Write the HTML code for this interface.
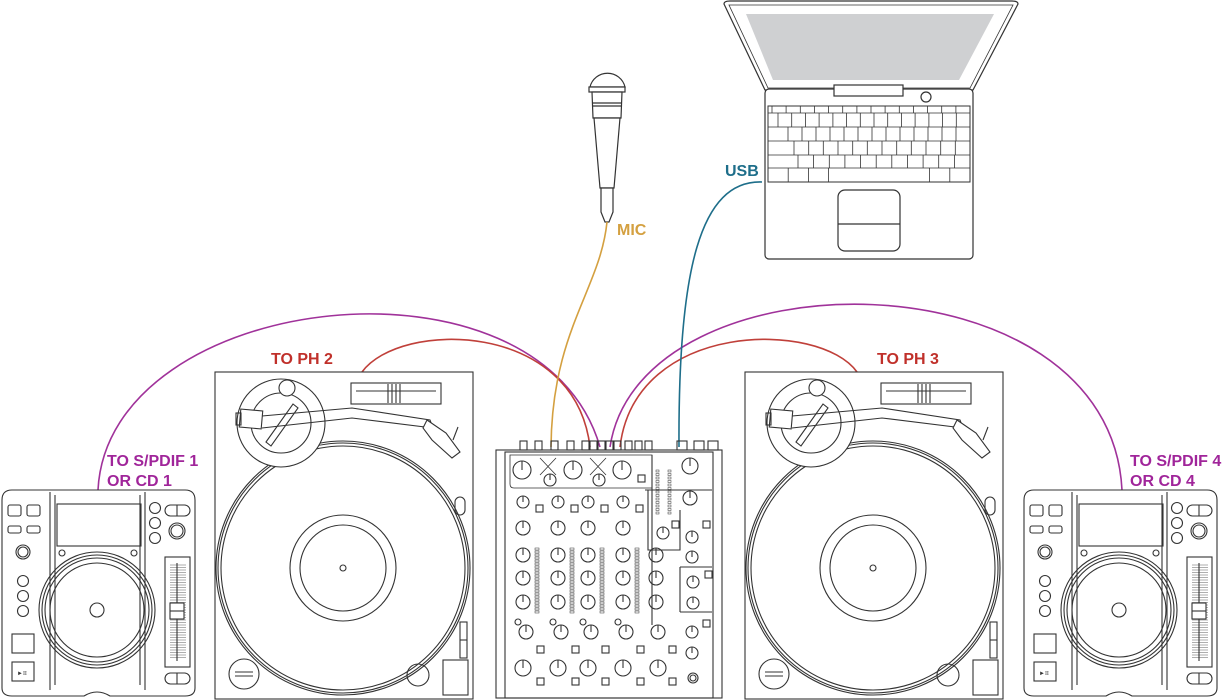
<!DOCTYPE html>
<html><head><meta charset="utf-8"><style>
html,body{margin:0;padding:0;background:#fff}
svg{display:block}
.l{font-family:"Liberation Sans",sans-serif;font-size:16px;font-weight:bold}
</style></head><body>
<svg id="s" width="1224" height="700" viewBox="0 0 1224 700" xmlns="http://www.w3.org/2000/svg">
<g fill="none" stroke="#333" stroke-width="1.2">
<!-- laptop -->
<path d="M724,4 Q724,1 730,1 L1012,1 Q1018,1 1018,4 L973,90 L765,90 Z" fill="#fff"/>
<path d="M729,5 L1013,5 L970,88 L768,88 Z" stroke-width="0.8"/>
<path d="M746,14 L994,14 L959,80 L773,80 Z" fill="#cfd0d2" stroke="none"/>
<rect x="765" y="89" width="208" height="170" rx="4" fill="#fff"/>
<rect x="834" y="85" width="69" height="11" fill="#fff"/>
<circle cx="926" cy="97" r="5"/>
<rect x="768" y="106" width="202" height="76" stroke-width="1"/>
<g id="keys" stroke-width="0.8"></g>
<rect x="838" y="190" width="62" height="61" rx="7"/>
<line x1="838" y1="224" x2="900" y2="224"/>
<!-- mic -->
<path d="M590,87 A18,18 0 0 1 625,87 Z" fill="#fff"/>
<rect x="589" y="87" width="36" height="5" fill="#fff"/>
<path d="M592,92 L622,92 L621,118 L593,118 Z" fill="#fff"/>
<line x1="592" y1="103" x2="622" y2="103"/>
<line x1="592" y1="106" x2="622" y2="106"/>
<path d="M594,118 L620,118 L614,188 L600,188 Z" fill="#fff"/>
<path d="M601,188 L613,188 L613,212 L609,222 L605,222 L601,212 Z" fill="#fff"/>
</g>
<!-- cables -->
<g fill="none" stroke-width="1.6">
<path d="M98,490 C108,290 540,240 600,447" stroke="#a0329a"/>
<path d="M610,447 C640,250 1110,250 1122,490" stroke="#a0329a"/>
<path d="M362,372 C400,320 575,320 590,447" stroke="#c0403a"/>
<path d="M620,447 C635,320 820,320 857,372" stroke="#c0403a"/>
<path d="M607,222 C600,290 552,330 551,447" stroke="#d4a040"/>
<path d="M762,182 C700,180 678,270 679,447" stroke="#1e6e8a"/>
</g>
<g class="l">
<text x="271" y="364" fill="#c0302a">TO PH 2</text>
<text x="877" y="364" fill="#c0302a">TO PH 3</text>
<text x="107" y="466" fill="#a0259a">TO S/PDIF 1</text>
<text x="107" y="486" fill="#a0259a">OR CD 1</text>
<text x="1130" y="466" fill="#a0259a">TO S/PDIF 4</text>
<text x="1130" y="486" fill="#a0259a">OR CD 4</text>
<text x="617" y="235" fill="#d4a040">MIC</text>
<text x="725" y="176" fill="#1e6e8a">USB</text>
</g>
<g id="dev" fill="none" stroke="#333" stroke-width="1.1"></g>
</svg>
<script>
var k='';
var rows=[[106,113,14],[113,127,14],[127,141,13],[141,155,12],[155,168,11],[168,182,10]];
rows.forEach(function(r,i){k+='<line x1="768" y1="'+r[1]+'" x2="970" y2="'+r[1]+'"/>';var off=[4,10,20,26,30,0][i];var w=(202-off)/r[2];for(var j=0;j<=r[2];j++){var x=768+off+j*w;if(i==5&&j>3&&j<8)continue;k+='<line x1="'+x.toFixed(1)+'" y1="'+r[0]+'" x2="'+x.toFixed(1)+'" y2="'+r[1]+'"/>';}});
document.getElementById('keys').innerHTML=k;
var d='';
function cd(t){
 d+='<g transform="translate('+t+',0)">';
 d+='<path d="M2,500 Q2,490 12,490 L185,490 Q195,490 195,500 L195,688 Q195,696 185,696 L110,696 Q97,688 84,696 L12,696 Q2,696 2,688 Z"/>';
 d+='<path d="M50,492 L50,690 M145,492 L145,690 M55,495 L55,685 M140,495 L140,685"/>';
 d+='<rect x="57" y="504" width="84" height="42"/>';
 d+='<circle cx="62" cy="553" r="3"/><circle cx="134" cy="553" r="3"/>';
 d+='<circle cx="97" cy="610" r="58"/><circle cx="97" cy="610" r="55"/><circle cx="97" cy="610" r="52"/><circle cx="97" cy="610" r="47"/><circle cx="97" cy="610" r="7"/>';
 [[8,505],[27,505]].forEach(function(p){d+='<rect x="'+p[0]+'" y="'+p[1]+'" width="13" height="11" rx="2"/>';});
 [[8,526],[27,526]].forEach(function(p){d+='<rect x="'+p[0]+'" y="'+p[1]+'" width="13" height="7" rx="2"/>';});
 d+='<circle cx="23" cy="552" r="7"/><circle cx="23" cy="552" r="5"/>';
 [581,596,611].forEach(function(y){d+='<circle cx="23" cy="'+y+'" r="5.5"/>';});
 d+='<rect x="12" y="634" width="22" height="19"/><rect x="12" y="662" width="22" height="19"/><text x="17" y="675" font-size="6" fill="#333" stroke="none">&#9658;II</text>';
 [508,523,538].forEach(function(y){d+='<circle cx="155" cy="'+y+'" r="5.5"/>';});
 d+='<rect x="165" y="505" width="25" height="11" rx="5.5"/><line x1="177" y1="505" x2="177" y2="516"/>';
 d+='<circle cx="177" cy="531" r="8"/><circle cx="177" cy="531" r="6"/>';
 d+='<rect x="165" y="557" width="25" height="110"/><line x1="177" y1="563" x2="177" y2="661"/>';
 for(var y=565;y<660;y+=2.5)d+='<line x1="170" y1="'+y+'" x2="186" y2="'+y+'" stroke-width="0.4"/>';
 d+='<rect x="170" y="603" width="14" height="16" fill="#fff"/><line x1="170" y1="611" x2="184" y2="611"/>';
 d+='<rect x="165" y="673" width="25" height="11" rx="5.5"/><line x1="177" y1="673" x2="177" y2="684"/>';
 d+='</g>';
}
function tt(t){
 d+='<g transform="translate('+t+',0)">';
 d+='<rect x="215" y="372" width="258" height="327"/>';
 d+='<circle cx="343" cy="568" r="127"/><circle cx="343" cy="568" r="125"/><circle cx="343" cy="568" r="122"/>';
 d+='<circle cx="343" cy="568" r="53"/><circle cx="343" cy="568" r="43"/><circle cx="343" cy="568" r="3"/>';
 d+='<circle cx="281" cy="423" r="44" fill="#fff"/><circle cx="281" cy="423" r="30"/><circle cx="287" cy="388" r="8" fill="#fff"/>';
 d+='<path d="M266,442 L293,404 L298,408 L271,446 Z"/>';
 d+='<rect x="240" y="410" width="22" height="18" transform="rotate(5 251 419)" fill="#fff"/><rect x="236" y="413" width="5" height="12"/>';
 d+='<path d="M262,416 L352,408 L430,420 L433,428 L352,418 L262,428"/>';
 d+='<path d="M427,420 L446,433 L460,452 L452,458 L432,440 L423,428 Z" fill="#fff"/>';
 d+='<line x1="453" y1="440" x2="458" y2="427"/>';
 d+='<rect x="351" y="383" width="90" height="21"/><line x1="356" y1="391" x2="436" y2="391"/><path d="M388,384 L388,403 M392,384 L392,403 M396,384 L396,403 M400,384 L400,403"/>';
 d+='<rect x="455" y="497" width="10" height="18" rx="5"/>';
 d+='<rect x="460" y="622" width="7" height="36"/><line x1="460" y1="640" x2="467" y2="640"/>';
 d+='<rect x="443" y="660" width="25" height="35"/>';
 d+='<circle cx="244" cy="674" r="15"/><path d="M235,672 L253,672 M235,676 L253,676"/>';
 d+='<circle cx="418" cy="675" r="11"/>';
 d+='</g>';
}
cd(0);cd(1022);tt(0);tt(530);
d+='<rect x="496" y="450" width="226" height="248"/><rect x="505" y="452" width="208" height="246"/>';
[520,535,551,567,582,590,598,606,614,625,635,645].forEach(function(x){d+='<rect x="'+x+'" y="441" width="7" height="9"/>';});
d+='<rect x="677" y="441" width="10" height="9"/><rect x="694" y="441" width="10" height="9"/><rect x="708" y="441" width="10" height="9"/>';
d+='<path d="M510,455 L652,455 L652,488 L514,488 Q510,488 510,484 Z" stroke-width="0.8"/>';
d+='<path d="M652,455 L652,625 M645,490 L712,490 M648,490 L648,550 L680,550 L680,510"/>';
function knob(x,y,r){d+='<circle cx="'+x+'" cy="'+y+'" r="'+r+'"/><line x1="'+x+'" y1="'+(y-r)+'" x2="'+x+'" y2="'+y+'"/>';}
function sq(x,y){d+='<rect x="'+x+'" y="'+y+'" width="7" height="7"/>';}
knob(522,470,9);knob(573,470,9);knob(622,470,9);knob(550,480,6);knob(599,480,6);sq(638,475);
d+='<path d="M540,458 L556,475 M556,458 L540,475 M590,458 L606,475 M606,458 L590,475" stroke-width="0.8"/>';
[523,558,588,623].forEach(function(x,i){
 knob(x,502,6);sq(x+13,505);knob(x,528,7);knob(x,555,7);knob(x,578,7);knob(x,602,7);
 for(var y=548;y<612;y+=3)d+='<rect x="'+(x+12)+'" y="'+y+'" width="4" height="2" stroke-width="0.5"/>';
 knob(x+3,632,7);d+='<circle cx="'+(x-5)+'" cy="622" r="3"/>';sq(x+14,646);
 knob(x,668,8);sq(x+14,678);
});
knob(656,555,7);knob(656,578,7);knob(656,602,7);knob(658,632,7);knob(658,668,8);sq(669,646);sq(669,678);
for(var y=470;y<513;y+=3.5){d+='<rect x="656" y="'+y+'" width="3" height="2" stroke-width="0.5"/><rect x="668" y="'+y+'" width="3" height="2" stroke-width="0.5"/>';}
knob(690,466,8);knob(690,498,7);knob(663,533,6);sq(672,521);sq(703,521);
knob(692,537,6);knob(692,557,6);knob(693,582,6);knob(693,603,6);sq(705,571);sq(703,620);
knob(692,632,6);knob(692,653,6);d+='<circle cx="693" cy="678" r="5"/><circle cx="693" cy="678" r="3"/>';
d+='<path d="M680,567 L712,567 M680,612 L712,612 M680,567 L680,612"/>';
document.getElementById('dev').innerHTML=d;
</script>
</body></html>
